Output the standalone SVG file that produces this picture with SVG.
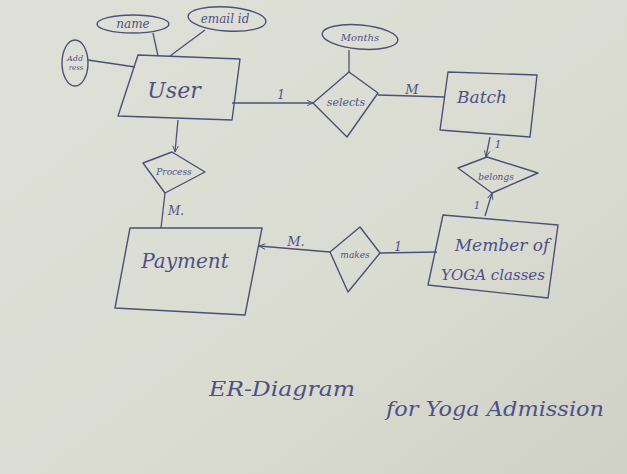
<svg xmlns="http://www.w3.org/2000/svg" width="627" height="474" viewBox="0 0 627 474">
<defs>
<linearGradient id="paper" x1="0" y1="0" x2="1" y2="1">
<stop offset="0" stop-color="#dfe0d7"/>
<stop offset="0.6" stop-color="#dadbd1"/>
<stop offset="1" stop-color="#cfd0c6"/>
</linearGradient>
<marker id="arr" viewBox="0 0 10 10" refX="9" refY="5" markerWidth="7" markerHeight="7" orient="auto" markerUnits="userSpaceOnUse">
<path d="M0,1 L9,5 L0,9" fill="none" stroke="#4c5078" stroke-width="1.3"/>
</marker>
<style>
.s{fill:none;stroke:#4c5078;stroke-width:1.4;stroke-linejoin:round}
.t{font-family:"DejaVu Serif","Liberation Serif",serif;font-style:italic;fill:#4d5188;text-anchor:middle}
.c{fill:none;stroke:#4c5078;stroke-width:1.3}
</style>
</defs>
<rect width="627" height="474" fill="url(#paper)"/>

<g id="connectors">
<line class="c" x1="153" y1="33" x2="158" y2="56"/>
<line class="c" x1="205" y1="30" x2="170" y2="56"/>
<line class="c" x1="88" y1="60" x2="135" y2="67"/>
<line class="c" x1="232" y1="103" x2="313" y2="103" marker-end="url(#arr)"/>
<text class="t" x="281" y="99" font-size="12">1</text>
<line class="c" x1="349" y1="50" x2="349" y2="72"/>
<line class="c" x1="378" y1="95" x2="445" y2="97"/>
<text class="t" x="412" y="94" font-size="13" font-style="normal">M</text>
<line class="c" x1="490" y1="137" x2="486" y2="157" marker-end="url(#arr)"/>
<text class="t" x="498" y="148" font-size="11">1</text>
<line class="c" x1="485" y1="216" x2="492" y2="193" marker-end="url(#arr)"/>
<text class="t" x="477" y="209" font-size="11">1</text>
<line class="c" x1="437" y1="252" x2="380" y2="253"/>
<text class="t" x="398" y="251" font-size="12">1</text>
<line class="c" x1="330" y1="252" x2="259" y2="246" marker-end="url(#arr)"/>
<text class="t" x="296" y="246" font-size="13" font-style="normal">M.</text>
<line class="c" x1="178" y1="120" x2="175" y2="152" marker-end="url(#arr)"/>
<line class="c" x1="165" y1="193" x2="161" y2="228"/>
<text class="t" x="176" y="215" font-size="12" font-style="normal">M.</text>
</g>

<g id="name">
<ellipse class="s" cx="133" cy="24" rx="36" ry="9"/>
<text class="t" x="133" y="28" font-size="12">name</text>
</g>
<g id="email">
<ellipse class="s" cx="227" cy="19" rx="39" ry="12" transform="rotate(4 227 19)"/>
<text class="t" x="225" y="23" font-size="12">email id</text>
</g>
<g id="address">
<ellipse class="s" cx="75" cy="63" rx="13" ry="23"/>
<text class="t" x="75" y="61" font-size="8">Add</text>
<text class="t" x="76" y="70" font-size="7">ress</text>
</g>
<g id="user">
<polygon class="s" points="138,55 240,59 232,120 118,116"/>
<text class="t" x="174" y="98" font-size="22">User</text>
</g>
<g id="months">
<ellipse class="s" cx="360" cy="37" rx="38" ry="12" transform="rotate(5 360 37)"/>
<text class="t" x="360" y="41" font-size="10">Months</text>
</g>
<g id="selects">
<polygon class="s" points="349,72 378,93 347,137 313,103"/>
<text class="t" x="346" y="106" font-size="11">selects</text>
</g>
<g id="batch">
<polygon class="s" points="448,72 537,75 530,137 440,130"/>
<text class="t" x="482" y="103" font-size="17">Batch</text>
</g>
<g id="belongs">
<polygon class="s" points="458,168 487,157 538,173 492,193"/>
<text class="t" x="496" y="180" font-size="9">belongs</text>
</g>
<g id="member">
<polygon class="s" points="443,215 558,225 548,298 428,285"/>
<text class="t" x="502" y="251" font-size="17">Member of</text>
<text class="t" x="493" y="280" font-size="15">YOGA classes</text>
</g>
<g id="makes">
<polygon class="s" points="360,227 380,253 348,292 330,252"/>
<text class="t" x="355" y="258" font-size="9">makes</text>
</g>
<g id="process">
<polygon class="s" points="143,163 172,152 205,172 165,193"/>
<text class="t" x="174" y="175" font-size="9">Process</text>
</g>
<g id="payment">
<polygon class="s" points="130,228 262,228 245,315 115,308"/>
<text class="t" x="185" y="268" font-size="20">Payment</text>
</g>
<g id="title">
<text class="t" x="282" y="396" font-size="21" textLength="146" lengthAdjust="spacingAndGlyphs">ER-Diagram</text>
<text class="t" x="495" y="416" font-size="20" textLength="218" lengthAdjust="spacingAndGlyphs">for Yoga Admission</text>
</g>
</svg>
